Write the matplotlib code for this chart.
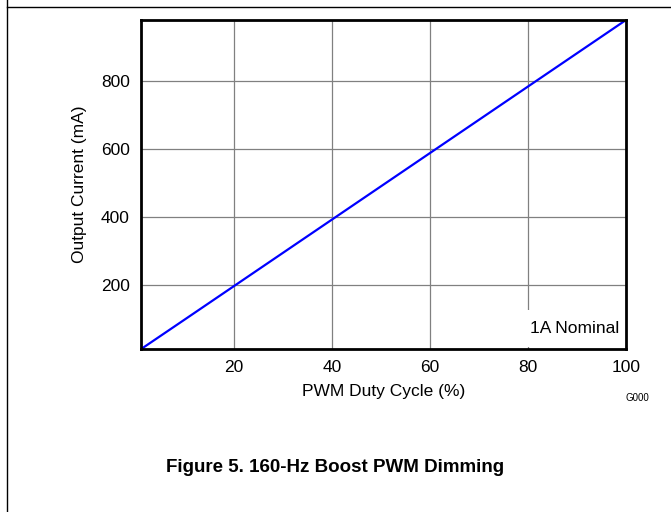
import matplotlib
matplotlib.use('Agg')
import matplotlib.pyplot as plt
from matplotlib.lines import Line2D

plt.rcParams['font.family'] = ['Liberation Sans', 'DejaVu Sans']

# duty cycle (%) vs output current (mA)
duty = [1, 10, 20, 30, 40, 50, 60, 70, 80, 90, 100]
current = [10, 98, 196, 294, 392, 490, 588, 686, 784, 882, 980]
xticks = [20, 40, 60, 80, 100]
yticks = [200, 400, 600, 800]

fig = plt.figure(figsize=(6.71, 5.12), dpi=100)
ax = fig.add_axes([0.210, 0.318, 0.723, 0.643])

ax.plot(duty, current, color='#0000ff', lw=1.6, zorder=3)
ax.set_xlim(1, 100)
ax.set_ylim(10, 980)
ax.set_xticks(xticks)
ax.set_yticks(yticks)
ax.grid(True, color='#808080', lw=0.9)
ax.tick_params(length=0, labelsize=12.5, pad=8)
for s in ax.spines.values():
    s.set_linewidth(2.0)
    s.set_zorder(6)

ax.set_xlabel('PWM Duty Cycle (%)', fontsize=12.5, labelpad=6)
ax.set_ylabel('Output Current (mA)', fontsize=12.5, labelpad=10)
ax.text(0.985, 0.04, '1A Nominal', transform=ax.transAxes, ha='right', va='bottom',
        fontsize=12.5, zorder=4,
        bbox=dict(facecolor='white', edgecolor='none', pad=8))

fig.text(637/671, 1 - 398/512, 'G000', fontsize=7, ha='center', va='center')
fig.text(0.5, 0.086, 'Figure 5. 160-Hz Boost PWM Dimming', fontsize=13.5,
         fontweight='bold', ha='center', va='center')

# page frame lines
fig.add_artist(Line2D([7/671, 7/671], [0, 1], color='black', lw=1.0))
fig.add_artist(Line2D([7/671, 1], [1 - 7/512, 1 - 7/512], color='black', lw=1.0))

fig.savefig('out.png', dpi=100)
